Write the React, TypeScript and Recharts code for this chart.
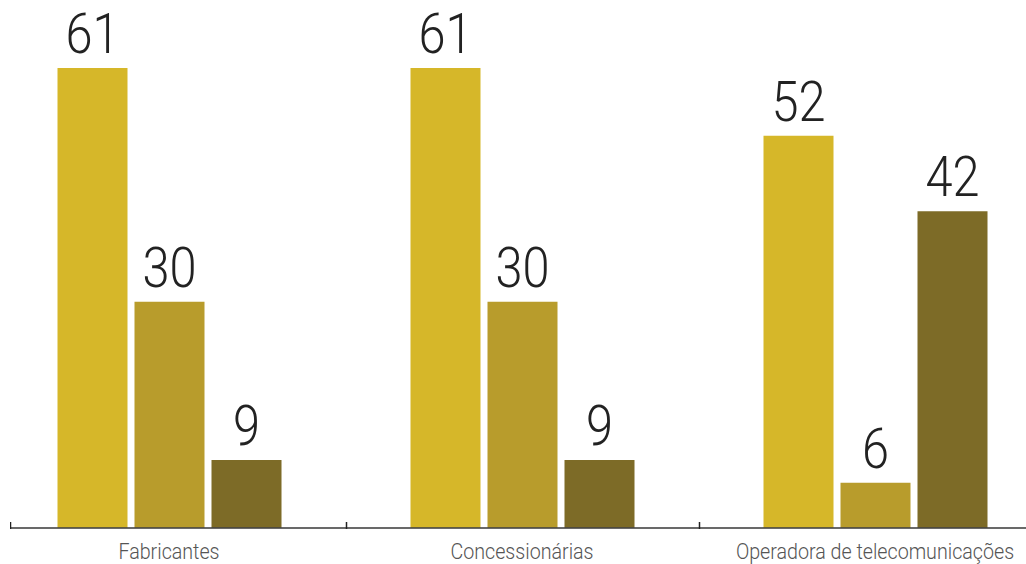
import { Bar, BarChart, LabelList, ReferenceLine, XAxis, YAxis } from "recharts";

const categories = ["Fabricantes", "Concessionárias", "Operadora de telecomunicações"];
const serieA = [61, 61, 52];
const serieB = [30, 30, 6];
const serieC = [9, 9, 42];

const data = categories.map((name, i) => ({
  name,
  a: serieA[i],
  b: serieB[i],
  c: serieC[i],
}));

const COLOR_A = "#D6B729";
const COLOR_B = "#B89C2C";
const COLOR_C = "#7D6B27";
const AXIS = "#444";

// plot spans page x -7.5 .. 1051.5, clipped by the wrapper at 10 .. 1026
const CHART_W = 1100;
const CHART_H = 564;
const AXIS_H = 36;
const M_LEFT = 12.5;
const M_RIGHT = 28.5;
const SHIFT = -30; // svg left relative to wrapper (wrapper starts at page x 10)
const BAND = (CHART_W - M_LEFT - M_RIGHT) / categories.length;
const BASE = CHART_H - AXIS_H;

// no condensed light face installed: squeeze Roboto Light horizontally
function ValueLabel(props: any) {
  const { x, y, width, value } = props;
  const cx = x + width / 2;
  return (
    <text
      transform={`translate(${cx}, ${y - 15}) scale(0.87, 1)`}
      textAnchor="middle"
      fontFamily="Roboto, sans-serif"
      fontWeight={300}
      fontSize={56}
      fill="#222"
    >
      {value}
    </text>
  );
}

function CategoryTick(props: any) {
  const { x, payload, index } = props;
  const left = x - BAND / 2;
  const tickX = index === 0 ? -SHIFT + 0.5 : Math.round(left) + 0.5;
  return (
    <g>
      <line x1={tickX} x2={tickX} y1={BASE - 6} y2={BASE + 1} stroke="#222" strokeWidth={1.5} />
      <text
        transform={`translate(${x}, ${BASE + 31}) scale(0.915, 1)`}
        textAnchor="middle"
        fontFamily="Roboto, sans-serif"
        fontWeight={300}
        fontSize={21.5}
        fill="#555"
      >
        {payload.value}
      </text>
    </g>
  );
}

export default function App() {
  return (
    <div
      style={{
        position: "absolute",
        left: 10,
        top: 0,
        width: 1016,
        height: CHART_H,
        overflow: "hidden",
        background: "#fff",
      }}
    >
      <div style={{ position: "absolute", left: SHIFT, top: 0 }}>
        <BarChart
          width={CHART_W}
          height={CHART_H}
          data={data}
          margin={{ top: 0, right: M_RIGHT, bottom: 0, left: M_LEFT }}
          barSize={70}
          barGap={7}
        >
          <XAxis
            dataKey="name"
            height={AXIS_H}
            axisLine={false}
            tickLine={false}
            interval={0}
            tick={<CategoryTick />}
          />
          <YAxis hide domain={[0, 70]} />
          <Bar dataKey="a" fill={COLOR_A} isAnimationActive={false}>
            <LabelList dataKey="a" content={<ValueLabel />} />
          </Bar>
          <Bar dataKey="b" fill={COLOR_B} isAnimationActive={false}>
            <LabelList dataKey="b" content={<ValueLabel />} />
          </Bar>
          <Bar dataKey="c" fill={COLOR_C} isAnimationActive={false}>
            <LabelList dataKey="c" content={<ValueLabel />} />
          </Bar>
          <ReferenceLine y={0} stroke={AXIS} strokeOpacity={0.8} strokeWidth={2} />
        </BarChart>
      </div>
    </div>
  );
}
